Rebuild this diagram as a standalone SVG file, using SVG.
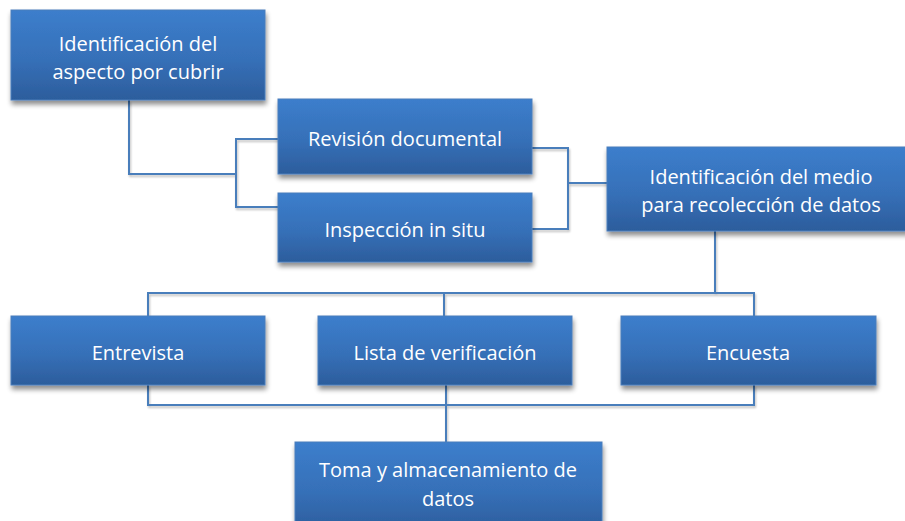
<svg xmlns="http://www.w3.org/2000/svg" width="905" height="521" viewBox="0 0 905 521">
<defs>
<linearGradient id="g" x1="0" y1="0" x2="0" y2="1">
<stop offset="0" stop-color="#3C7ECC"/>
<stop offset="0.55" stop-color="#3670B8"/>
<stop offset="1" stop-color="#2C5D9C"/>
</linearGradient>
<filter id="sh" x="-10%" y="-10%" width="125%" height="140%">
<feGaussianBlur in="SourceAlpha" stdDeviation="2.5"/>
<feOffset dx="1" dy="4" result="b"/>
<feComponentTransfer><feFuncA type="linear" slope="0.45"/></feComponentTransfer>
<feMerge><feMergeNode/><feMergeNode in="SourceGraphic"/></feMerge>
</filter>
<filter id="lsh" x="-5%" y="-5%" width="110%" height="110%">
<feGaussianBlur in="SourceAlpha" stdDeviation="1"/>
<feOffset dx="1" dy="2"/>
<feComponentTransfer><feFuncA type="linear" slope="0.25"/></feComponentTransfer>
<feMerge><feMergeNode/><feMergeNode in="SourceGraphic"/></feMerge>
</filter>
</defs>
<style>
.box{fill:url(#g);stroke:#4A7EBB;stroke-width:1;filter:url(#sh)}
.t{font-family:"Open Sans","Noto Sans","DejaVu Sans",sans-serif;font-size:20px;fill:#FFFFFF;text-anchor:middle}
.c{fill:none;stroke:#4A7EBB;stroke-width:2}
</style>
<rect width="905" height="521" fill="#FFFFFF"/>
<g id="connectors" filter="url(#lsh)">
<polyline class="c" points="129,100 129,174 236,174"/>
<polyline class="c" points="278,139 236,139 236,207 278,207"/>
<polyline class="c" points="532,148 568,148 568,229 532,229"/>
<line class="c" x1="568" y1="183" x2="607" y2="183"/>
<line class="c" x1="715" y1="231" x2="715" y2="293"/>
<polyline class="c" points="148,316 148,293 754,293 754,316"/>
<line class="c" x1="444" y1="293" x2="444" y2="316"/>
<polyline class="c" points="148,385 148,405 754,405 754,385"/>
<line class="c" x1="446" y1="385" x2="446" y2="442"/>
</g>
<g id="n1"><rect class="box" x="11" y="10" width="254" height="90"/>
<text class="t" x="138" y="51">Identificación del</text>
<text class="t" x="138" y="79">aspecto por cubrir</text></g>
<g id="n2"><rect class="box" x="278" y="99" width="254" height="75"/>
<text class="t" x="405" y="146">Revisión documental</text></g>
<g id="n3"><rect class="box" x="278" y="193" width="254" height="69"/>
<text class="t" x="405" y="237">Inspección in situ</text></g>
<g id="n4"><rect class="box" x="607" y="147" width="308" height="84"/>
<text class="t" x="761" y="184">Identificación del medio</text>
<text class="t" x="761" y="212">para recolección de datos</text></g>
<g id="n5"><rect class="box" x="11" y="316" width="254" height="69"/>
<text class="t" x="138" y="360">Entrevista</text></g>
<g id="n6"><rect class="box" x="318" y="316" width="254" height="69"/>
<text class="t" x="445" y="360">Lista de verificación</text></g>
<g id="n7"><rect class="box" x="621" y="316" width="255" height="69"/>
<text class="t" x="748" y="360">Encuesta</text></g>
<g id="n8"><rect class="box" x="295" y="442" width="307" height="90"/>
<text class="t" x="448" y="477">Toma y almacenamiento de</text>
<text class="t" x="448" y="506">datos</text></g>
</svg>
